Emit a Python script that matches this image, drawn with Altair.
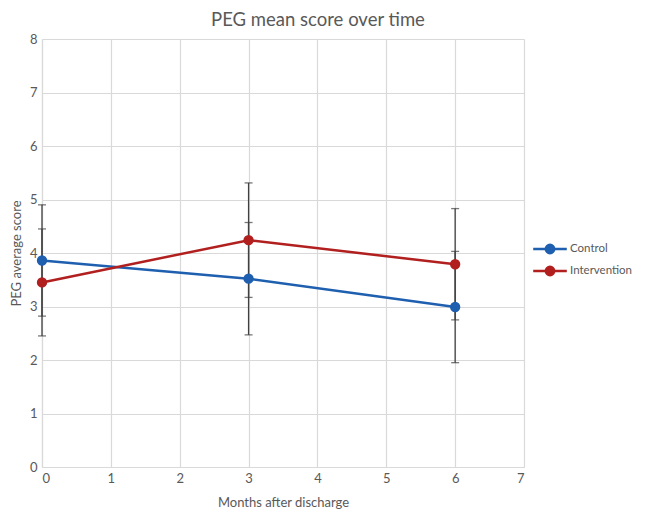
import altair as alt
import pandas as pd

months = [0, 3, 6]
groups = ["Control", "Intervention"]
control_mean = [3.86, 3.52, 2.99]
control_err = [1.04, 1.05, 1.04]
interv_mean = [3.45, 4.24, 3.79]
interv_err = [1.00, 1.07, 1.04]

rows = []
for m, v, e in zip(months, control_mean, control_err):
    rows.append({"month": m, "group": "Control", "mean": v, "lo": v - e, "hi": v + e})
for m, v, e in zip(months, interv_mean, interv_err):
    rows.append({"month": m, "group": "Intervention", "mean": v, "lo": v - e, "hi": v + e})
df = pd.DataFrame(rows)

colors = ["#1F5FAF", "#B21F1F"]
FONT = "Lato"
TXT = "#595959"

xs = alt.Scale(domain=[0, 7], nice=False)
ys = alt.Scale(domain=[0, 8], nice=False)
cs = alt.Scale(domain=groups, range=colors)

base = alt.Chart(df)

x_enc = alt.X("month:Q", scale=xs, title="Months after discharge",
              axis=alt.Axis(values=list(range(0, 8)), format="d", grid=True, ticks=False,
                            labelPadding=5, titlePadding=11))
y_enc = alt.Y("mean:Q", scale=ys, title="PEG average score",
              axis=alt.Axis(values=list(range(0, 9)), format="d", grid=True, ticks=False,
                            labelPadding=5, titlePadding=6))

err_rule = base.mark_rule(color="#404040", strokeWidth=1.3).encode(
    x=x_enc, y=alt.Y("lo:Q", scale=ys), y2="hi:Q")
cap_lo = base.mark_tick(color="#404040", size=8, thickness=1.3, orient="horizontal").encode(
    x="month:Q", y=alt.Y("lo:Q", scale=ys))
cap_hi = base.mark_tick(color="#404040", size=8, thickness=1.3, orient="horizontal").encode(
    x="month:Q", y=alt.Y("hi:Q", scale=ys))

sym = "M-1.6,0L1.6,0M-0.4,0A0.4,0.4,0,1,1,0.4,0A0.4,0.4,0,1,1,-0.4,0Z"
leg = alt.Legend(title=None, orient="none", legendX=496, legendY=198,
                 symbolType=sym, symbolSize=441, symbolStrokeWidth=2.5,
                 labelFont=FONT, labelFontSize=11.5, labelColor=TXT, labelOffset=8,
                 rowPadding=-6, padding=0)

points = base.mark_point(filled=True, size=70, opacity=1).encode(
    x=x_enc, y=y_enc,
    color=alt.Color("group:N", scale=cs, legend=leg),
    stroke=alt.Stroke("group:N", scale=cs, legend=leg))

lines = base.mark_line(strokeWidth=2.5).encode(
    x=x_enc, y=y_enc,
    color=alt.Color("group:N", scale=cs, legend=leg))

chart = alt.layer(err_rule, cap_lo, cap_hi, lines, points).properties(
    width=482, height=428,
    padding={"left": 2, "top": 2, "right": 0, "bottom": 0},
    title=alt.TitleParams("PEG mean score over time", font=FONT, fontSize=18.5,
                          fontWeight="normal", color=TXT, anchor="middle", frame="group",
                          dx=35, offset=4),
).configure_view(stroke=None).configure_axis(
    gridColor="#D9D9D9", domainColor="#D9D9D9", labelFont=FONT, labelFontSize=13,
    labelColor=TXT, titleFont=FONT, titleFontSize=13, titleColor=TXT,
    titleFontWeight="normal", gridWidth=1.2, domainWidth=1.2)

chart.save("out.html", embed_options={"renderer": "svg", "actions": False})
